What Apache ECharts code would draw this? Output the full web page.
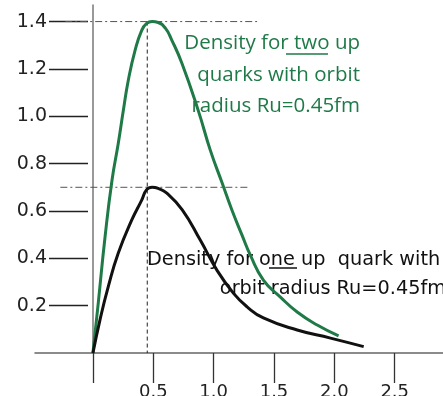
<!DOCTYPE html>
<html>
<head>
<meta charset="utf-8">
<script src="https://cdn.jsdelivr.net/npm/echarts@6/dist/echarts.min.js"></script>
<style>
  html, body { margin: 0; padding: 0; background: #fff; }
  #chart { width: 443px; height: 396px; }
</style>
</head>
<body>
<div id="chart"></div>
<script>
// Radial density of up quarks, orbit radius Ru = 0.45 fm
const twoQuarkR = [0, 0.044, 0.10, 0.158, 0.21, 0.252, 0.293, 0.349, 0.404, 0.445, 0.49, 0.54, 0.60, 0.654, 0.737, 0.872, 0.972, 1.069, 1.152, 1.235, 1.304, 1.412, 1.553, 1.692, 1.858, 2.035];
const twoQuarkDensity = [0, 0.211, 0.489, 0.73, 0.886, 1.025, 1.152, 1.278, 1.363, 1.392, 1.40, 1.396, 1.372, 1.321, 1.224, 1.025, 0.857, 0.72, 0.603, 0.498, 0.413, 0.308, 0.236, 0.173, 0.118, 0.072];

const oneQuarkR = [0, 0.058, 0.127, 0.21, 0.321, 0.404, 0.445, 0.49, 0.54, 0.612, 0.74, 0.889, 1.027, 1.163, 1.277, 1.412, 1.692, 1.968, 2.243];
const oneQuarkDensity = [0, 0.139, 0.28, 0.422, 0.561, 0.646, 0.69, 0.70, 0.695, 0.675, 0.605, 0.477, 0.350, 0.253, 0.195, 0.148, 0.097, 0.063, 0.027];

// Guide lines: peak radius and the two peak densities
const orbitRadius = 0.45;
const twoQuarkPeak = 1.4;
const oneQuarkPeak = 0.7;
const twoPeakGuideSpan = [-0.23, 1.36];
const onePeakGuideSpan = [-0.27, 1.30];

// Axis tick labels
const xTickValues = [0, 0.5, 1.0, 1.5, 2.0, 2.5];
const xLabelValues = [0.5, 1.0, 1.5, 2.0, 2.5];
const yLabelValues = [0.2, 0.4, 0.6, 0.8, 1.0, 1.2, 1.4];

const X_MIN = -0.48, X_MAX = 2.9, Y_MIN = 0, Y_MAX = 1.47;

const GREEN = '#1f7a48';
const DASH_DOT = [7, 3, 2, 3];

function pairs(xs, ys) { return xs.map((x, i) => [x, ys[i]]); }

function label(text, x, y, font, fill, align) {
  return {
    type: 'text', x: x, y: y,
    style: { text: text, font: font, fill: fill, align: align, textAlign: align, verticalAlign: 'middle', textVerticalAlign: 'middle' }
  };
}

const chart = echarts.init(document.getElementById('chart'), null, { renderer: 'canvas' });

chart.setOption({
  animation: false,
  backgroundColor: '#ffffff',
  grid: [
    { left: 35, right: 0, top: 5, bottom: 43, containLabel: false, outerBoundsMode: 'none' },
    { left: 88, width: 10, top: 5, bottom: 43, containLabel: false, outerBoundsMode: 'none' }
  ],
  xAxis: [
    {
      type: 'value', gridIndex: 0, min: X_MIN, max: X_MAX,
      axisLine: { show: true, lineStyle: { color: '#666', width: 1.5 } },
      axisTick: { show: true, customValues: xTickValues, length: 30, lineStyle: { color: '#333', width: 1.3 } },
      axisLabel: {
        show: true, customValues: xLabelValues, margin: 30,
        formatter: v => v.toFixed(1),
        fontFamily: 'DejaVu Sans', fontSize: 18, color: '#222'
      },
      splitLine: { show: false }
    },
    { type: 'value', gridIndex: 1, min: 0, max: 1, show: false }
  ],
  yAxis: [
    {
      type: 'value', gridIndex: 0, min: Y_MIN, max: Y_MAX,
      axisLine: { show: true, onZero: true, onZeroAxisIndex: 0, lineStyle: { color: '#777', width: 1.5 } },
      axisTick: { show: false },
      axisLabel: { show: false },
      splitLine: { show: false }
    },
    {
      type: 'value', gridIndex: 1, min: Y_MIN, max: Y_MAX, position: 'left',
      axisLine: { show: false, onZero: false },
      axisTick: { show: true, customValues: yLabelValues, length: 39, lineStyle: { color: '#222', width: 1.3 } },
      axisLabel: {
        show: true, customValues: yLabelValues, margin: 41,
        formatter: v => v.toFixed(1),
        fontFamily: 'DejaVu Sans', fontSize: 19, color: '#222'
      },
      splitLine: { show: false }
    }
  ],
  series: [
    {
      name: 'peak radius', type: 'line', xAxisIndex: 0, yAxisIndex: 0,
      data: [[orbitRadius, twoQuarkPeak], [orbitRadius, 0]],
      symbol: 'none', silent: true,
      lineStyle: { color: '#222', width: 1, type: [4, 3] }
    },
    {
      name: 'two quark peak', type: 'line', xAxisIndex: 0, yAxisIndex: 0,
      data: [[twoPeakGuideSpan[0], twoQuarkPeak], [twoPeakGuideSpan[1], twoQuarkPeak]],
      symbol: 'none', silent: true,
      lineStyle: { color: '#555', width: 1, type: DASH_DOT }
    },
    {
      name: 'one quark peak', type: 'line', xAxisIndex: 0, yAxisIndex: 0,
      data: [[onePeakGuideSpan[0], oneQuarkPeak], [onePeakGuideSpan[1], oneQuarkPeak]],
      symbol: 'none', silent: true,
      lineStyle: { color: '#555', width: 1, type: DASH_DOT }
    },
    {
      name: 'two up quarks', type: 'line', xAxisIndex: 0, yAxisIndex: 0,
      data: pairs(twoQuarkR, twoQuarkDensity),
      smooth: 0.5, symbol: 'none',
      lineStyle: { color: GREEN, width: 3 }
    },
    {
      name: 'one up quark', type: 'line', xAxisIndex: 0, yAxisIndex: 0,
      data: pairs(oneQuarkR, oneQuarkDensity),
      smooth: 0.5, symbol: 'none',
      lineStyle: { color: '#111', width: 3 }
    }
  ],
  graphic: [
    label('Density for two up', 360, 43, '20.5px "Open Sans"', GREEN, 'right'),
    label('quarks with orbit', 360, 75, '20.5px "Open Sans"', GREEN, 'right'),
    label('radius Ru=0.45fm', 360, 106, '20.5px "Open Sans"', GREEN, 'right'),
    { type: 'line', shape: { x1: 286, y1: 54, x2: 328, y2: 54 }, style: { stroke: GREEN, lineWidth: 1.5 } },
    label('Density for one up  quark with', 147, 260, '19.3px "DejaVu Sans"', '#111', 'left'),
    label('orbit radius Ru=0.45fm', 446, 289, '19.3px "DejaVu Sans"', '#111', 'right'),
    { type: 'line', shape: { x1: 269, y1: 268, x2: 297, y2: 268 }, style: { stroke: '#111', lineWidth: 1.5 } }
  ]
});
</script>
</body>
</html>
